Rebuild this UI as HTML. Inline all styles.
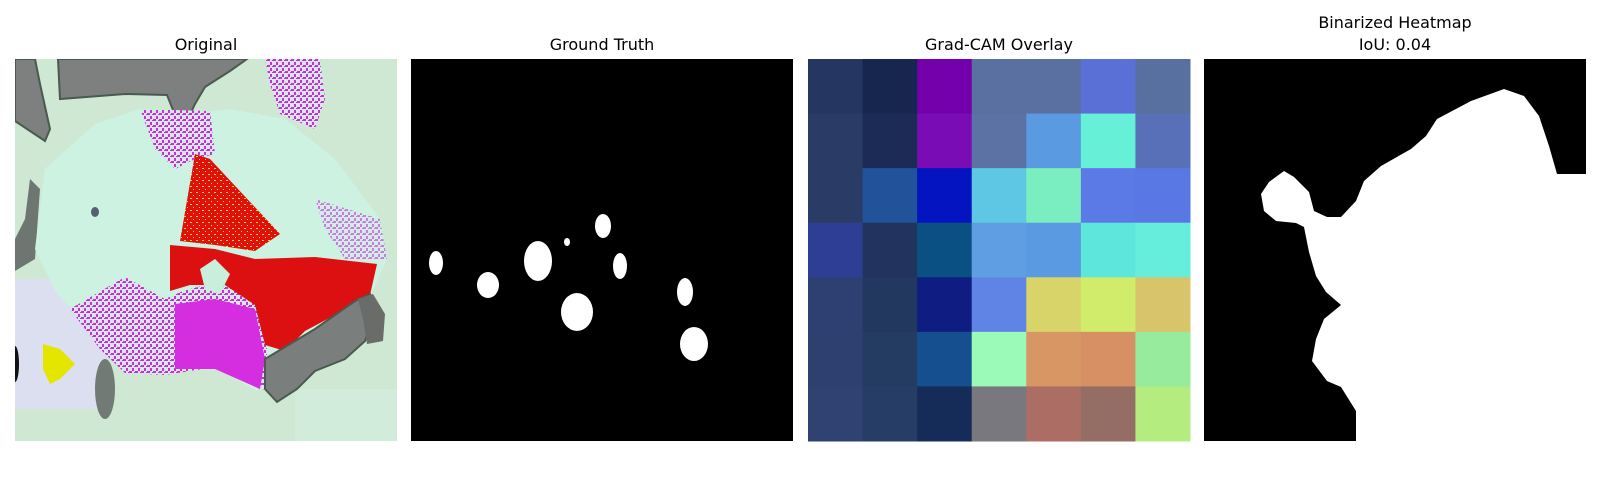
<!DOCTYPE html>
<html><head><meta charset="utf-8"><style>
html,body{margin:0;padding:0;background:#fff;width:1600px;height:500px;overflow:hidden}
svg{display:block}
text{font-family:"DejaVu Sans","Liberation Sans",sans-serif;font-size:16px;fill:#000}
</style></head><body>
<svg id="fig" width="1600" height="500" viewBox="0 0 1600 500">
<defs>
<pattern id="speck" width="6" height="6" patternUnits="userSpaceOnUse">
<rect width="6" height="6" fill="#c8f2e0"/>
<rect x="0" y="0" width="3" height="2" fill="#e020e8"/>
<rect x="3" y="3" width="2" height="3" fill="#e020e8"/>
<rect x="5" y="1" width="1" height="1" fill="#e020e8"/>
</pattern>
<pattern id="speckr" width="6" height="6" patternUnits="userSpaceOnUse">
<rect width="6" height="6" fill="#e01010"/>
<rect x="1" y="1" width="2" height="1" fill="#e8e800"/>
<rect x="4" y="4" width="1" height="1" fill="#e8e800"/>
</pattern>
<clipPath id="c0"><rect x="0" y="0" width="382" height="382"/></clipPath>
</defs>

<text x="206" y="50" text-anchor="middle">Original</text>
<text x="602" y="50" text-anchor="middle">Ground Truth</text>
<text x="999" y="50" text-anchor="middle">Grad-CAM Overlay</text>
<text x="1395" y="28" text-anchor="middle">Binarized Heatmap</text>
<text x="1395" y="50" text-anchor="middle">IoU: 0.04</text>

<g transform="translate(15,59)" clip-path="url(#c0)">
<rect width="382" height="382" fill="#cfe8d3"/>
<rect x="0" y="220" width="90" height="130" fill="#dcdff0"/>
<rect x="280" y="330" width="102" height="52" fill="#d2ecdc"/>
<polygon points="0,0,20,0,25,25,35,70,30,82,15,72,0,62" fill="#7e8080" stroke="#4a5a50" stroke-width="2"/>
<polygon points="43,0,232,0,215,12,190,28,180,45,172,62,160,56,152,36,110,35,45,40" fill="#7e8080" stroke="#4a5a50" stroke-width="2"/>
<polygon points="15,120,25,130,20,200,0,212,0,180,10,160" fill="#6e7672"/>
<polygon points="20,190,30,110,80,65,125,50,170,55,215,50,270,60,320,100,365,160,372,200,355,238,300,270,252,300,242,332,200,308,150,314,110,312,85,282,40,232" fill="#cdf2e2"/>
<polygon points="125,50,195,52,200,95,180,100,160,110,140,90" fill="url(#speck)"/>
<polygon points="250,0,305,0,310,40,300,70,265,55,255,25" fill="url(#speck)"/>
<polygon points="300,140,365,160,372,200,330,200,310,170" fill="url(#speck)" opacity="0.6"/>
<polygon points="55,250,110,218,150,240,168,232,205,222,242,240,252,290,252,332,200,308,150,316,110,314,85,290" fill="url(#speck)"/>
<polygon points="160,245,200,240,240,250,250,300,245,330,200,310,160,310" fill="#d42ee0"/>
<polygon points="165,182,180,95,195,100,265,175,240,192,200,186" fill="url(#speckr)"/>
<polygon points="155,186,200,190,240,200,300,198,362,205,355,236,320,256,290,272,270,292,250,286,240,246,210,226,175,226,155,232" fill="#dc1010"/>
<polygon points="200,200,215,215,205,235,190,230,185,210" fill="#c8eedc"/>
<polygon points="250,300,300,270,340,242,355,235,362,250,350,282,330,300,300,312,282,330,262,343,250,330" fill="#7a7e7c" stroke="#4a5a50" stroke-width="2"/>
<polygon points="343,240,358,235,370,255,368,282,352,285,348,260" fill="#6a6c6a"/>
<ellipse cx="90" cy="330" rx="10" ry="30" fill="#727a76"/>
<ellipse cx="80" cy="153" rx="4" ry="5" fill="#556070"/>
<polygon points="28,285,45,290,60,305,45,320,35,325,28,310" fill="#e4e600"/>
<ellipse cx="0" cy="305" rx="4" ry="18" fill="#111"/>
</g>

<g transform="translate(411,59)">
<rect width="382" height="382" fill="#000"/>
<g fill="#fff" id="gt"></g>
</g>

<g transform="translate(808,59)" id="cam"></g>

<g transform="translate(1204,59)">
<rect width="382" height="382" fill="#000"/>
<path d="M353,115 L382,115 L382,382 L152,382 L152,352 L137,328 L123,322 L108,302 L112,280 L120,260 L137,246 L122,233 L112,217 L105,193 L100,168 L92,164 L72,162 L60,152 L57,135 L65,123 L80,112 L90,118 L105,133 L110,152 L123,158 L137,158 L152,142 L160,122 L177,107 L207,90 L222,77 L233,60 L267,42 L300,30 L320,37 L335,57 L345,87 Z" fill="#fff"/>
</g>
</svg>
<script>
// Ground truth blobs: centers and radii (panel-local units)
const blobX = [25, 77, 127, 156, 192, 209, 166, 274, 283];
const blobY = [204, 226, 202, 183, 167, 207, 253, 233, 285];
const blobRX = [7, 11, 14, 3, 8, 7, 16, 8, 14];
const blobRY = [12, 13, 20, 4, 12, 13, 19, 14, 17];
// Grad-CAM overlay cell colours (7x7)
const camRows = [
 ["#253760","#17264f","#7300aa","#5a70a0","#5a70a0","#5a70d6","#5870a0"],
 ["#2a3c66","#1c2b55","#7a0cb6","#5c72a4","#5a9ae0","#66f0d8","#5870b8"],
 ["#2a3c66","#22529a","#0414c0","#5ec8e4","#7aeec0","#5c7ae6","#5a78e4"],
 ["#2e3e94","#22345e","#0b5083","#609ee4","#5a9ae2","#5ce6dc","#66eedc"],
 ["#2e4072","#22385e","#0f1d82","#6084e6","#d8d46a","#d0ec6a","#d8c46a"],
 ["#2e4070","#243c62","#154f90","#9cfab8","#d89664","#d69064","#96ec9c"],
 ["#304272","#263e66","#162c58","#78787e","#ac6e64","#946e64","#b4ec80"]
];
const NS = "http://www.w3.org/2000/svg";
const gt = document.getElementById("gt");
for (let i = 0; i < blobX.length; i++) {
  const e = document.createElementNS(NS, "ellipse");
  e.setAttribute("cx", blobX[i]);
  e.setAttribute("cy", blobY[i]);
  e.setAttribute("rx", blobRX[i]);
  e.setAttribute("ry", blobRY[i]);
  
  
  gt.appendChild(e);
}
const cam = document.getElementById("cam");
const size = 382, n = camRows.length, cs = size / n;
function cx(c){ return c * cs; }
function cy(r){ return r * cs; }
camRows.forEach((row, r) => row.forEach((col, c) => {
  const rc = document.createElementNS(NS, "rect");
  rc.setAttribute("x", cx(c));
  rc.setAttribute("y", cy(r));
  rc.setAttribute("width", cs + 0.5);
  rc.setAttribute("height", cs + 0.5);
  rc.setAttribute("fill", col);
  
  
  cam.appendChild(rc);
}));
</script>
</body></html>
